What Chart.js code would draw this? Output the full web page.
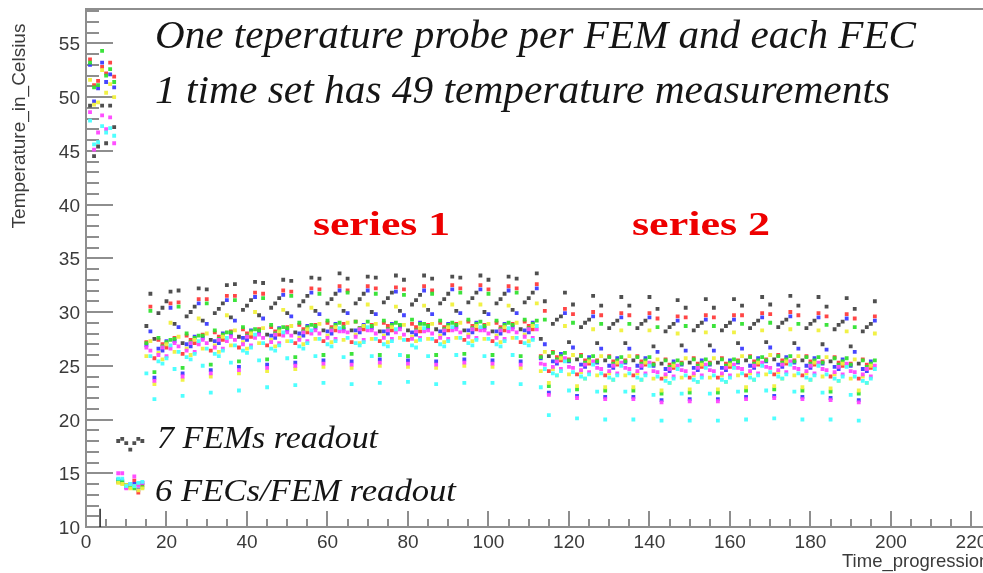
<!DOCTYPE html>
<html>
<head>
<meta charset="utf-8">
<script src="https://cdn.jsdelivr.net/npm/chart.js@4.4.1/dist/chart.umd.min.js"></script>
<style>
  html, body { margin: 0; padding: 0; background: #fff; }
  canvas { display: block; }
</style>
</head>
<body>
<canvas id="myChart" width="983" height="573"></canvas>
<script>
// one value per time step (x = 1 .. 196), 7 steps = 1 time set
// blocks: first set x1-7 | legend sample x8-14 | series 1 x15-112 | series 2 x113-196

// FEM probes (black)
const femProbe = [
  49.2, 44.5, 45.4, 49.2, 45.7, 49.2, 47.2,
  18.0, 18.2, 17.8, 17.2, 17.8, 18.2, 18.0,
  28.7, 31.7, 27.5, 29.9, 30.4, 31.0, 31.9,
  28.9, 32.0, 27.1, 29.6, 30.0, 30.5, 32.2,
  29.2, 32.1, 27.4, 29.9, 30.3, 30.8, 32.5,
  29.5, 32.6, 27.7, 30.2, 30.6, 31.1, 32.8,
  29.7, 32.7, 27.9, 30.4, 30.8, 31.3, 33.0,
  29.9, 32.9, 28.1, 30.6, 31.0, 31.5, 33.2,
  30.1, 33.1, 28.3, 30.8, 31.2, 31.7, 33.6,
  30.1, 33.1, 28.3, 30.8, 31.2, 31.7, 33.3,
  30.0, 33.2, 28.2, 30.9, 31.3, 31.8, 33.4,
  30.1, 33.0, 28.3, 30.7, 31.1, 31.6, 33.4,
  30.2, 33.1, 28.4, 30.8, 31.2, 31.7, 33.3,
  30.1, 33.2, 28.3, 30.9, 31.3, 31.8, 33.4,
  30.0, 33.0, 28.2, 30.8, 31.2, 31.7, 33.3,
  30.2, 33.1, 28.4, 30.9, 31.3, 31.8, 33.6,
  27.5, 31.0, 25.9, 28.9, 29.3, 29.6, 31.8,
  27.2, 30.7, 25.6, 28.6, 29.0, 29.3, 31.5,
  27.1, 30.6, 25.5, 28.5, 28.9, 29.2, 31.4,
  27.1, 30.6, 25.5, 28.5, 28.9, 29.2, 31.4,
  26.8, 30.3, 25.2, 28.2, 28.6, 28.9, 31.1,
  26.9, 30.4, 25.3, 28.3, 28.7, 29.0, 31.2,
  26.9, 30.4, 25.3, 28.3, 28.7, 29.0, 31.2,
  27.1, 30.6, 25.5, 28.5, 28.9, 29.2, 31.4,
  27.2, 30.7, 25.6, 28.6, 29.0, 29.3, 31.5,
  27.1, 30.6, 25.5, 28.5, 28.9, 29.2, 31.4,
  27.0, 30.5, 25.4, 28.4, 28.8, 29.1, 31.3,
  26.8, 30.3, 25.2, 28.2, 28.6, 28.9, 31.0
];

const fecRed = [
  53.5, 51.1, 51.5, 52.8, 52.2, 53.2, 51.9,
  14.2, 14.1, 13.9, 13.8, 14.3, 13.2, 13.9,
  27.2, 30.5, 25.7, 27.4, 27.0, 26.7, 30.8,
  27.6, 30.9, 26.1, 27.8, 27.4, 27.1, 31.2,
  27.9, 31.2, 26.4, 28.1, 27.7, 27.4, 31.5,
  28.2, 31.5, 26.7, 28.4, 28.0, 27.7, 31.8,
  28.4, 31.7, 26.9, 28.6, 28.2, 27.9, 32.0,
  28.6, 31.9, 27.1, 28.8, 28.4, 28.1, 32.2,
  28.8, 32.1, 27.3, 29.0, 28.6, 28.3, 32.4,
  28.9, 32.0, 27.2, 29.1, 28.5, 28.4, 32.4,
  28.8, 32.2, 27.3, 29.0, 28.7, 28.3, 32.3,
  28.7, 32.1, 27.4, 28.9, 28.6, 28.2, 32.4,
  28.8, 32.0, 27.3, 29.0, 28.6, 28.3, 32.5,
  28.9, 32.2, 27.4, 29.1, 28.7, 28.4, 32.5,
  28.8, 32.1, 27.3, 29.0, 28.6, 28.3, 32.4,
  28.9, 32.2, 27.2, 29.1, 28.7, 28.4, 32.6,
  25.9, 30.1, 24.5, 26.3, 25.8, 25.5, 30.3,
  25.6, 29.8, 24.2, 26.0, 25.5, 25.2, 30.0,
  25.5, 29.7, 24.1, 25.9, 25.4, 25.1, 29.9,
  25.5, 29.7, 24.1, 25.9, 25.4, 25.1, 29.9,
  25.2, 29.4, 23.8, 25.6, 25.1, 24.8, 29.6,
  25.3, 29.5, 23.9, 25.7, 25.2, 24.9, 29.7,
  25.3, 29.5, 23.9, 25.7, 25.2, 24.9, 29.7,
  25.5, 29.7, 24.1, 25.9, 25.4, 25.1, 29.9,
  25.6, 29.8, 24.2, 26.0, 25.5, 25.2, 30.0,
  25.5, 29.7, 24.1, 25.9, 25.4, 25.1, 29.9,
  25.4, 29.6, 24.0, 25.8, 25.3, 25.0, 29.8,
  25.2, 29.4, 23.8, 25.6, 25.1, 24.8, 29.6
];

const fecBlue = [
  53.0, 49.6, 50.8, 53.2, 51.4, 52.1, 50.9,
  14.4, 14.3, 13.7, 13.9, 14.0, 13.5, 14.1,
  26.9, 28.2, 23.9, 26.6, 26.4, 27.3, 30.4,
  27.3, 28.6, 24.3, 27.0, 26.8, 27.7, 30.8,
  27.6, 28.9, 24.6, 27.3, 27.1, 28.0, 31.1,
  27.9, 29.2, 24.9, 27.6, 27.4, 28.3, 31.4,
  28.1, 29.4, 25.1, 27.8, 27.6, 28.5, 31.6,
  28.3, 29.6, 25.3, 28.0, 27.8, 28.7, 31.8,
  28.5, 29.8, 25.5, 28.2, 28.0, 28.9, 32.0,
  28.4, 29.9, 25.4, 28.3, 28.1, 28.8, 32.0,
  28.5, 29.8, 25.6, 28.2, 28.0, 28.9, 31.9,
  28.6, 29.7, 25.5, 28.1, 27.9, 29.0, 32.0,
  28.5, 29.8, 25.4, 28.2, 28.0, 28.9, 32.1,
  28.6, 29.9, 25.6, 28.3, 28.1, 29.0, 32.1,
  28.5, 29.8, 25.5, 28.2, 28.0, 28.9, 32.0,
  28.6, 29.9, 25.4, 28.3, 28.1, 29.0, 32.2,
  25.7, 27.0, 22.5, 25.4, 25.2, 26.1, 29.9,
  25.4, 26.7, 22.2, 25.1, 24.9, 25.8, 29.6,
  25.3, 26.6, 22.1, 25.0, 24.8, 25.7, 29.5,
  25.3, 26.6, 22.1, 25.0, 24.8, 25.7, 29.5,
  25.0, 26.3, 21.8, 24.7, 24.5, 25.4, 29.2,
  25.1, 26.4, 21.9, 24.8, 24.6, 25.5, 29.3,
  25.1, 26.4, 21.9, 24.8, 24.6, 25.5, 29.3,
  25.3, 26.6, 22.1, 25.0, 24.8, 25.7, 29.5,
  25.4, 26.7, 22.2, 25.1, 24.9, 25.8, 29.6,
  25.3, 26.6, 22.1, 25.0, 24.8, 25.7, 29.5,
  25.2, 26.5, 22.0, 24.9, 24.7, 25.6, 29.4,
  25.0, 26.3, 21.8, 24.7, 24.5, 25.4, 29.2
];

const fecGreen = [
  53.2, 50.9, 51.1, 54.3, 52.0, 52.6, 51.4,
  14.3, 14.2, 13.9, 13.7, 13.6, 14.0, 13.7,
  27.1, 30.1, 24.4, 27.6, 26.8, 27.2, 27.4,
  27.5, 30.5, 24.8, 28.0, 27.2, 27.6, 27.8,
  27.8, 30.8, 25.1, 28.3, 27.5, 27.9, 28.1,
  28.1, 31.1, 25.4, 28.6, 27.8, 28.2, 28.4,
  28.3, 31.3, 25.6, 28.8, 28.0, 28.4, 28.6,
  28.5, 31.5, 25.8, 29.0, 28.2, 28.6, 28.8,
  28.7, 31.7, 26.0, 29.2, 28.4, 28.8, 29.0,
  28.6, 31.8, 26.1, 29.1, 28.5, 28.7, 29.1,
  28.7, 31.7, 26.0, 29.2, 28.4, 28.8, 29.0,
  28.8, 31.6, 25.9, 29.3, 28.3, 28.9, 28.9,
  28.7, 31.7, 26.0, 29.2, 28.4, 28.8, 29.0,
  28.8, 31.8, 26.1, 29.3, 28.5, 28.9, 29.1,
  28.7, 31.7, 26.0, 29.2, 28.4, 28.8, 29.0,
  28.8, 31.8, 25.9, 29.3, 28.5, 28.9, 29.2,
  25.8, 29.3, 23.1, 26.2, 25.6, 25.9, 26.2,
  25.5, 29.0, 22.8, 25.9, 25.3, 25.6, 25.9,
  25.4, 28.9, 22.7, 25.8, 25.2, 25.5, 25.8,
  25.4, 28.9, 22.7, 25.8, 25.2, 25.5, 25.8,
  25.1, 28.6, 22.4, 25.5, 24.9, 25.2, 25.5,
  25.2, 28.7, 22.5, 25.6, 25.0, 25.3, 25.6,
  25.2, 28.7, 22.5, 25.6, 25.0, 25.3, 25.6,
  25.4, 28.9, 22.7, 25.8, 25.2, 25.5, 25.8,
  25.5, 29.0, 22.8, 25.9, 25.3, 25.6, 25.9,
  25.4, 28.9, 22.7, 25.8, 25.2, 25.5, 25.8,
  25.3, 28.8, 22.6, 25.7, 25.1, 25.4, 25.7,
  25.1, 28.6, 22.4, 25.5, 24.9, 25.2, 25.5
];

const fecYellow = [
  51.6, 49.3, 49.5, 52.5, 50.4, 51.2, 50.0,
  14.1, 14.0, 13.9, 13.6, 13.8, 13.4, 13.6,
  25.9, 27.3, 23.3, 26.2, 25.6, 27.0, 29.0,
  26.3, 27.7, 23.7, 26.6, 26.0, 27.4, 29.4,
  26.6, 28.0, 24.0, 26.9, 26.3, 27.7, 29.7,
  26.9, 28.3, 24.3, 27.2, 26.6, 28.0, 30.0,
  27.1, 28.5, 24.5, 27.4, 26.8, 28.2, 30.2,
  27.3, 28.7, 24.7, 27.6, 27.0, 28.4, 30.4,
  27.5, 28.9, 24.9, 27.8, 27.2, 28.6, 30.6,
  27.4, 29.0, 24.8, 27.9, 27.1, 28.7, 30.7,
  27.5, 28.9, 25.0, 27.8, 27.2, 28.6, 30.5,
  27.6, 28.8, 24.9, 27.7, 27.3, 28.5, 30.6,
  27.5, 28.9, 24.8, 27.8, 27.2, 28.6, 30.7,
  27.6, 29.0, 25.0, 27.9, 27.3, 28.7, 30.7,
  27.5, 28.9, 24.9, 27.8, 27.2, 28.6, 30.6,
  27.6, 29.0, 24.8, 27.9, 27.3, 28.7, 30.8,
  24.5, 26.3, 23.4, 24.7, 24.1, 25.7, 28.7,
  24.2, 26.0, 23.1, 24.4, 23.8, 25.4, 28.4,
  24.1, 25.9, 23.0, 24.3, 23.7, 25.3, 28.3,
  24.1, 25.9, 23.0, 24.3, 23.7, 25.3, 28.3,
  23.8, 25.6, 22.7, 24.0, 23.4, 25.0, 28.0,
  23.9, 25.7, 22.8, 24.1, 23.5, 25.1, 28.1,
  23.9, 25.7, 22.8, 24.1, 23.5, 25.1, 28.1,
  24.1, 25.9, 23.0, 24.3, 23.7, 25.3, 28.3,
  24.2, 26.0, 23.1, 24.4, 23.8, 25.4, 28.4,
  24.1, 25.9, 23.0, 24.3, 23.7, 25.3, 28.3,
  24.0, 25.8, 22.9, 24.2, 23.6, 25.2, 28.2,
  23.8, 25.6, 22.7, 24.0, 23.4, 25.0, 28.0
];

const fecMagenta = [
  48.6, 45.1, 46.7, 48.3, 47.0, 48.1, 45.7,
  15.0, 15.0, 13.6, 14.0, 14.7, 13.9, 14.1,
  26.7, 26.4, 23.6, 26.0, 26.7, 25.9, 26.6,
  27.1, 26.8, 24.0, 26.4, 27.1, 26.3, 27.0,
  27.4, 27.1, 24.3, 26.7, 27.4, 26.6, 27.3,
  27.7, 27.4, 24.6, 27.0, 27.7, 26.9, 27.6,
  27.9, 27.6, 24.8, 27.2, 27.9, 27.1, 27.8,
  28.1, 27.8, 25.0, 27.4, 28.1, 27.3, 28.0,
  28.3, 28.0, 25.2, 27.6, 28.3, 27.5, 28.2,
  28.2, 28.1, 25.1, 27.7, 28.4, 27.4, 28.3,
  28.3, 28.0, 25.3, 27.6, 28.3, 27.5, 28.1,
  28.4, 27.9, 25.2, 27.5, 28.2, 27.6, 28.2,
  28.3, 28.0, 25.1, 27.6, 28.3, 27.5, 28.3,
  28.4, 28.1, 25.3, 27.7, 28.4, 27.6, 28.3,
  28.3, 28.0, 25.2, 27.6, 28.3, 27.5, 28.2,
  28.4, 28.1, 25.1, 27.7, 28.4, 27.6, 28.4,
  25.2, 25.1, 22.3, 24.9, 25.4, 24.7, 25.7,
  24.9, 24.8, 22.0, 24.6, 25.1, 24.4, 25.4,
  24.8, 24.7, 21.9, 24.5, 25.0, 24.3, 25.3,
  24.8, 24.7, 21.9, 24.5, 25.0, 24.3, 25.3,
  24.5, 24.4, 21.6, 24.2, 24.7, 24.0, 25.0,
  24.6, 24.5, 21.7, 24.3, 24.8, 24.1, 25.1,
  24.6, 24.5, 21.7, 24.3, 24.8, 24.1, 25.1,
  24.8, 24.7, 21.9, 24.5, 25.0, 24.3, 25.3,
  24.9, 24.8, 22.0, 24.6, 25.1, 24.4, 25.4,
  24.8, 24.7, 21.9, 24.5, 25.0, 24.3, 25.3,
  24.7, 24.6, 21.8, 24.4, 24.9, 24.2, 25.2,
  24.5, 24.4, 21.6, 24.2, 24.7, 24.0, 25.0
];

const fecCyan = [
  47.8, 45.6, 45.8, 47.3, 46.7, 47.1, 46.4,
  14.5, 14.5, 13.8, 14.0, 13.8, 14.1, 14.2,
  24.3, 25.9, 21.9, 25.4, 25.2, 25.7, 26.9,
  24.7, 26.3, 22.2, 25.8, 25.6, 26.1, 27.3,
  25.0, 26.6, 22.5, 26.1, 25.9, 26.4, 27.6,
  25.3, 26.9, 22.7, 26.4, 26.2, 26.7, 27.9,
  25.5, 27.1, 23.0, 26.6, 26.4, 26.9, 28.1,
  25.7, 27.3, 23.2, 26.8, 26.6, 27.1, 28.3,
  25.9, 27.5, 23.4, 27.0, 26.8, 27.3, 28.5,
  25.8, 27.6, 23.3, 27.1, 26.9, 27.2, 28.6,
  25.9, 27.5, 23.4, 27.0, 26.8, 27.3, 28.4,
  26.0, 27.4, 23.5, 26.9, 26.7, 27.4, 28.5,
  25.9, 27.5, 23.3, 27.0, 26.8, 27.3, 28.6,
  26.0, 27.6, 23.4, 27.1, 26.9, 27.4, 28.6,
  25.9, 27.5, 23.4, 27.0, 26.8, 27.3, 28.5,
  26.0, 27.6, 23.3, 27.1, 26.9, 27.4, 28.7,
  23.0, 24.7, 20.4, 24.3, 24.1, 24.5, 25.4,
  22.7, 24.4, 20.1, 24.0, 23.8, 24.2, 25.1,
  22.6, 24.3, 20.0, 23.9, 23.7, 24.1, 25.0,
  22.6, 24.3, 20.0, 23.9, 23.7, 24.1, 25.0,
  22.3, 24.0, 19.9, 23.6, 23.4, 23.8, 24.7,
  22.4, 24.1, 19.9, 23.7, 23.5, 23.9, 24.8,
  22.4, 24.1, 19.9, 23.7, 23.5, 23.9, 24.8,
  22.6, 24.3, 20.0, 23.9, 23.7, 24.1, 25.0,
  22.7, 24.4, 20.1, 24.0, 23.8, 24.2, 25.1,
  22.6, 24.3, 20.0, 23.9, 23.7, 24.1, 25.0,
  22.5, 24.2, 20.0, 23.8, 23.6, 24.0, 24.9,
  22.3, 24.0, 19.9, 23.6, 23.4, 23.8, 24.7
];

// axis ticks (ROOT style)
const xTickLabels = [0, 20, 40, 60, 80, 100, 120, 140, 160, 180, 200, 220];
const yTickLabels = [10, 15, 20, 25, 30, 35, 40, 45, 50, 55];

const toPoints = (arr) => arr.map((v, i) => ({ x: i + 1, y: v }));

function makeSet(label, arr, color) {
    return {
        label: label,
        data: toPoints(arr),
        backgroundColor: color,
        borderWidth: 0,
        pointStyle: 'rect',
        pointRadius: 2.7,
        pointHoverRadius: 2.7
    };
}

// data block
const data = {
    datasets: [
        makeSet('FEC 6', fecCyan, 'rgba(70,255,255,0.95)'),
        makeSet('FEC 5', fecMagenta, 'rgba(255,70,255,0.95)'),
        makeSet('FEC 4', fecYellow, 'rgba(240,240,60,0.95)'),
        makeSet('FEC 3', fecGreen, 'rgba(50,225,50,0.95)'),
        makeSet('FEC 2', fecBlue, 'rgba(60,60,255,0.95)'),
        makeSet('FEC 1', fecRed, 'rgba(255,60,60,0.95)'),
        makeSet('FEM', femProbe, 'rgba(60,60,60,0.9)')
    ]
};

function fitText(ctx, str, left, base, width, font, color) {
    ctx.save();
    ctx.font = font;
    ctx.fillStyle = color;
    ctx.textAlign = 'left';
    ctx.textBaseline = 'alphabetic';
    const w = ctx.measureText(str).width;
    ctx.translate(left, base);
    ctx.scale(width / w, 1);
    ctx.fillText(str, 0, 0);
    ctx.restore();
}

// ROOT like frame, inward ticks and the text boxes
const rootFrame = {
    id: 'rootFrame',
    beforeDatasetsDraw(chart) {
        const { ctx, chartArea: a, scales: { x, y } } = chart;
        ctx.save();
        ctx.strokeStyle = '#8e8e8e';
        ctx.lineWidth = 2;
        ctx.beginPath();
        ctx.moveTo(a.right + 5, a.top);
        ctx.lineTo(a.left, a.top);
        ctx.lineTo(a.left, a.bottom);
        ctx.lineTo(a.right + 5, a.bottom);
        for (let v = 10; v <= 58; v++) {
            const py = Math.round(y.getPixelForValue(v));
            const len = v % 5 === 0 ? 27 : 13;
            ctx.moveTo(a.left, py);
            ctx.lineTo(a.left + len, py);
        }
        for (let v = 0; v <= 220; v += 5) {
            const px = Math.round(x.getPixelForValue(v));
            const len = v % 20 === 0 ? 16 : 8;
            ctx.moveTo(px, a.bottom);
            ctx.lineTo(px, a.bottom - len);
        }
        ctx.stroke();

        // small stray mark near the origin
        ctx.strokeStyle = '#222';
        ctx.lineWidth = 1.5;
        ctx.beginPath();
        ctx.moveTo(x.getPixelForValue(3.5), y.getPixelForValue(10));
        ctx.lineTo(x.getPixelForValue(3.5), y.getPixelForValue(11.7));
        ctx.stroke();

        // tick labels
        ctx.fillStyle = '#3a3a3a';
        ctx.font = "19px 'Liberation Sans', Arial, sans-serif";
        ctx.textAlign = 'right';
        ctx.textBaseline = 'alphabetic';
        yTickLabels.forEach(v => {
            ctx.fillText(String(v), 80, y.getPixelForValue(v) + 7);
        });
        ctx.textAlign = 'center';
        xTickLabels.forEach(v => {
            ctx.fillText(String(v), x.getPixelForValue(v), 548);
        });

        // axis titles
        ctx.font = "19px 'Liberation Sans', Arial, sans-serif";
        ctx.save();
        ctx.translate(25, 126);
        ctx.rotate(-Math.PI / 2);
        ctx.textAlign = 'center';
        ctx.fillText('Temperature_in_Celsius', 0, 0);
        ctx.restore();
        ctx.font = "18.5px 'Liberation Sans', Arial, sans-serif";
        ctx.textAlign = 'left';
        ctx.fillText('Time_progression', 842, 567);
        ctx.restore();
    },
    afterDraw(chart) {
        const ctx = chart.ctx;
        const serifIt = "italic 39px 'Liberation Serif', 'DejaVu Serif', serif";
        fitText(ctx, 'One teperature probe per FEM and each FEC', 155, 48, 761, serifIt, '#151515');
        fitText(ctx, '1 time set has 49 temperature measurements', 155, 103, 735, serifIt, '#151515');
        const serifBold = "bold 34px 'Liberation Serif', 'DejaVu Serif', serif";
        fitText(ctx, 'series 1', 313, 235, 137, serifBold, '#ee0000');
        fitText(ctx, 'series 2', 632, 235, 138, serifBold, '#ee0000');
        const legendIt = "italic 31px 'Liberation Serif', 'DejaVu Serif', serif";
        fitText(ctx, '7 FEMs readout', 157, 448, 221, legendIt, '#151515');
        fitText(ctx, '6 FECs/FEM readout', 155, 501, 301, legendIt, '#151515');
    }
};

// config block
const config = {
    type: 'scatter',
    data: data,
    options: {
        responsive: false,
        devicePixelRatio: 1,
        animation: false,
        layout: {
            padding: { left: 86, top: 9, right: 0, bottom: 46 }
        },
        scales: {
            x: { type: 'linear', min: 0, max: 222.2, display: false },
            y: { type: 'linear', min: 10, max: 58.19, display: false }
        },
        plugins: {
            legend: { display: false },
            tooltip: { enabled: false }
        }
    },
    plugins: [rootFrame]
};

// init render block
const myChart = new Chart(
    document.getElementById('myChart'),
    config
);
</script>
</body>
</html>
